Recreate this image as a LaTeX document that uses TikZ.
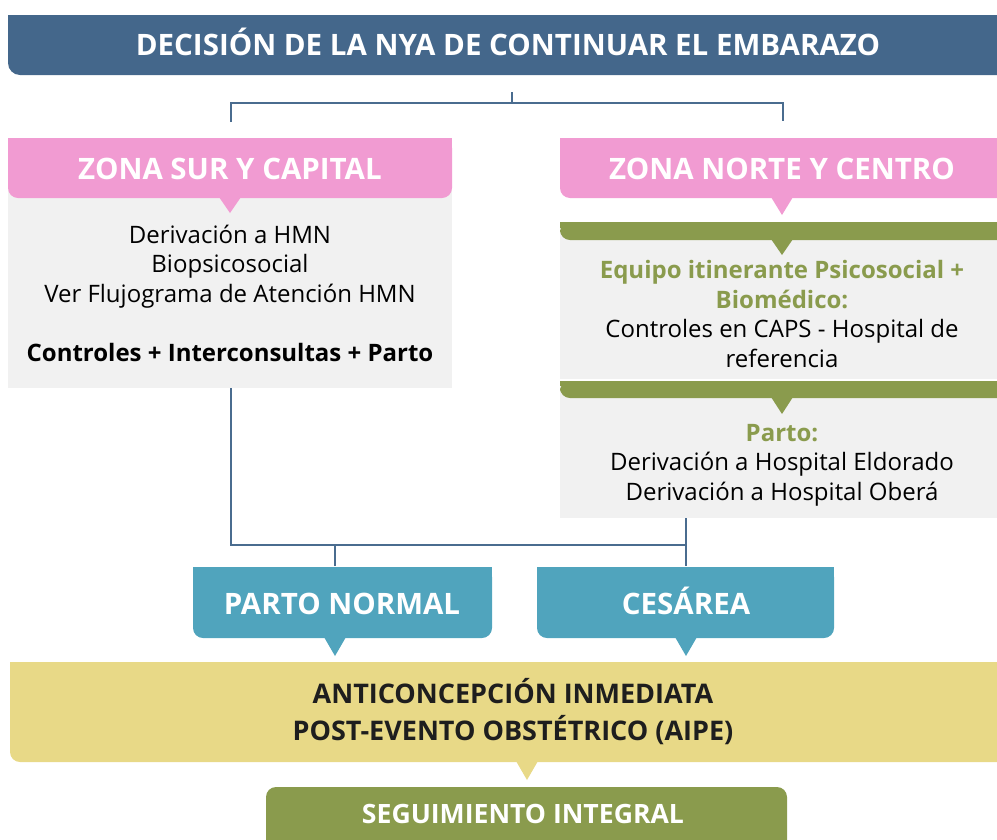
\documentclass[tikz,border=0pt]{standalone}
\usepackage{fontspec}
\setmainfont{Open Sans}
\definecolor{topblue}{HTML}{44678B}
\definecolor{linecol}{HTML}{4A6C8F}
\definecolor{pinkc}{HTML}{F19BD2}
\definecolor{grayc}{HTML}{F1F1F1}
\definecolor{greenc}{HTML}{8A9B4D}
\definecolor{tealc}{HTML}{50A4BD}
\definecolor{yellowc}{HTML}{E8D987}
\definecolor{darktext}{HTML}{1E1E1E}
\newcommand{\callout}[7]{%
  \fill[#7, rounded corners=10pt] (#1,#2) rectangle (#3,#4);
  \fill[#7] (#1,#2) rectangle (#3,#4-12);
  \fill[#7] (#5-11,#4-1) -- (#5+11,#4-1) -- (#5,#6) -- cycle;}
\begin{document}
\begin{tikzpicture}[x=1pt,y=-1pt,
  conn/.style={draw=linecol, line width=2.2pt},
  headtxt/.style={text=white, anchor=base, font=\bfseries\fontsize{29.5}{34}\selectfont, inner sep=0pt},
  bodytxt/.style={text=black, align=center, font=\fontsize{24}{29.5}\selectfont, inner sep=0pt}]
\useasboundingbox (0,0) rectangle (997,839);
\clip (0,0) rectangle (997,839);
% title bar
\fill[topblue, rounded corners=12pt] (8,15) rectangle (1020,75);
\fill[topblue] (8,15) rectangle (1020,60);
\node[text=white, anchor=base, font=\bfseries\fontsize{29.5}{34}\selectfont, inner sep=0pt] (title) at (508,55.5) {DECISIÓN DE LA NYA DE CONTINUAR EL EMBARAZO};
% grey boxes
\fill[grayc] (8,190) rectangle (452,388);
\fill[grayc] (560,222) rectangle (1000,379);
\fill[grayc] (560,381) rectangle (1000,518);
% pink boxes
\callout{8}{138}{452}{198}{230}{213}{pinkc}
\callout{560}{138}{1010}{198}{782}{215}{pinkc}
\node[headtxt] (sur) at (230,179.5) {ZONA SUR Y CAPITAL};
\node[headtxt] (norte) at (782,179.5) {ZONA NORTE Y CENTRO};
% green bands
\callout{560}{222}{1010}{240}{782}{255}{greenc}
\callout{560}{381}{1010}{398}{782}{414}{greenc}
% texts
\node[bodytxt] (surtxt) at (230,293) {Derivación a HMN\\Biopsicosocial\\Ver Flujograma de Atención HMN\\[29.5pt]\textbf{Controles + Interconsultas + Parto}};
\node[bodytxt] (equipo) at (782,314) {\textcolor{greenc}{\textbf{Equipo itinerante Psicosocial +}}\\\textcolor{greenc}{\textbf{Biomédico:}}\\Controles en CAPS - Hospital de\\referencia};
\node[bodytxt] (partotxt) at (782,465) {\textcolor{greenc}{\textbf{Parto:}}\\Derivación a Hospital Eldorado\\Derivación a Hospital Oberá};
% teal boxes
\callout{193}{567}{492}{638}{335}{656}{tealc}
\callout{537}{567}{834}{638}{686}{656}{tealc}
\node[headtxt] (normal) at (342,614.5) {PARTO NORMAL};
\node[headtxt] (cesarea) at (686,614.5) {CESÁREA};
% yellow box
\callout{10}{662}{1010}{762}{527}{780}{yellowc}
\node[text=darktext, align=center, font=\bfseries\fontsize{27}{37}\selectfont, inner sep=0pt] (aipe) at (513,712) {ANTICONCEPCIÓN INMEDIATA\\POST-EVENTO OBSTÉTRICO (AIPE)};
% green bottom box
\fill[greenc, rounded corners=10pt] (266,787) rectangle (787,860);
\node[text=white, anchor=base, font=\bfseries\fontsize{26.6}{30}\selectfont, inner sep=0pt] (seg) at (523,823.5) {SEGUIMIENTO INTEGRAL};
% connectors
\coordinate (t0) at (512,92);
\coordinate (t1) at (512,103);
\coordinate (tl) at (231,122);
\coordinate (tr) at (783,121);
\draw[conn] (t0) -- (t1);
\draw[conn] (tl) |- (t1) -| (tr);
\coordinate (bl) at (231,388);
\coordinate (br) at (686,518);
\coordinate (bm) at (686,545);
\coordinate (n1) at (335,566);
\coordinate (n2) at (686,566);
\draw[conn] (bl) |- (bm) -- (br);
\draw[conn] (n1) -- (n1 |- bm);
\draw[conn] (bm) -- (n2);
\end{tikzpicture}
\end{document}
